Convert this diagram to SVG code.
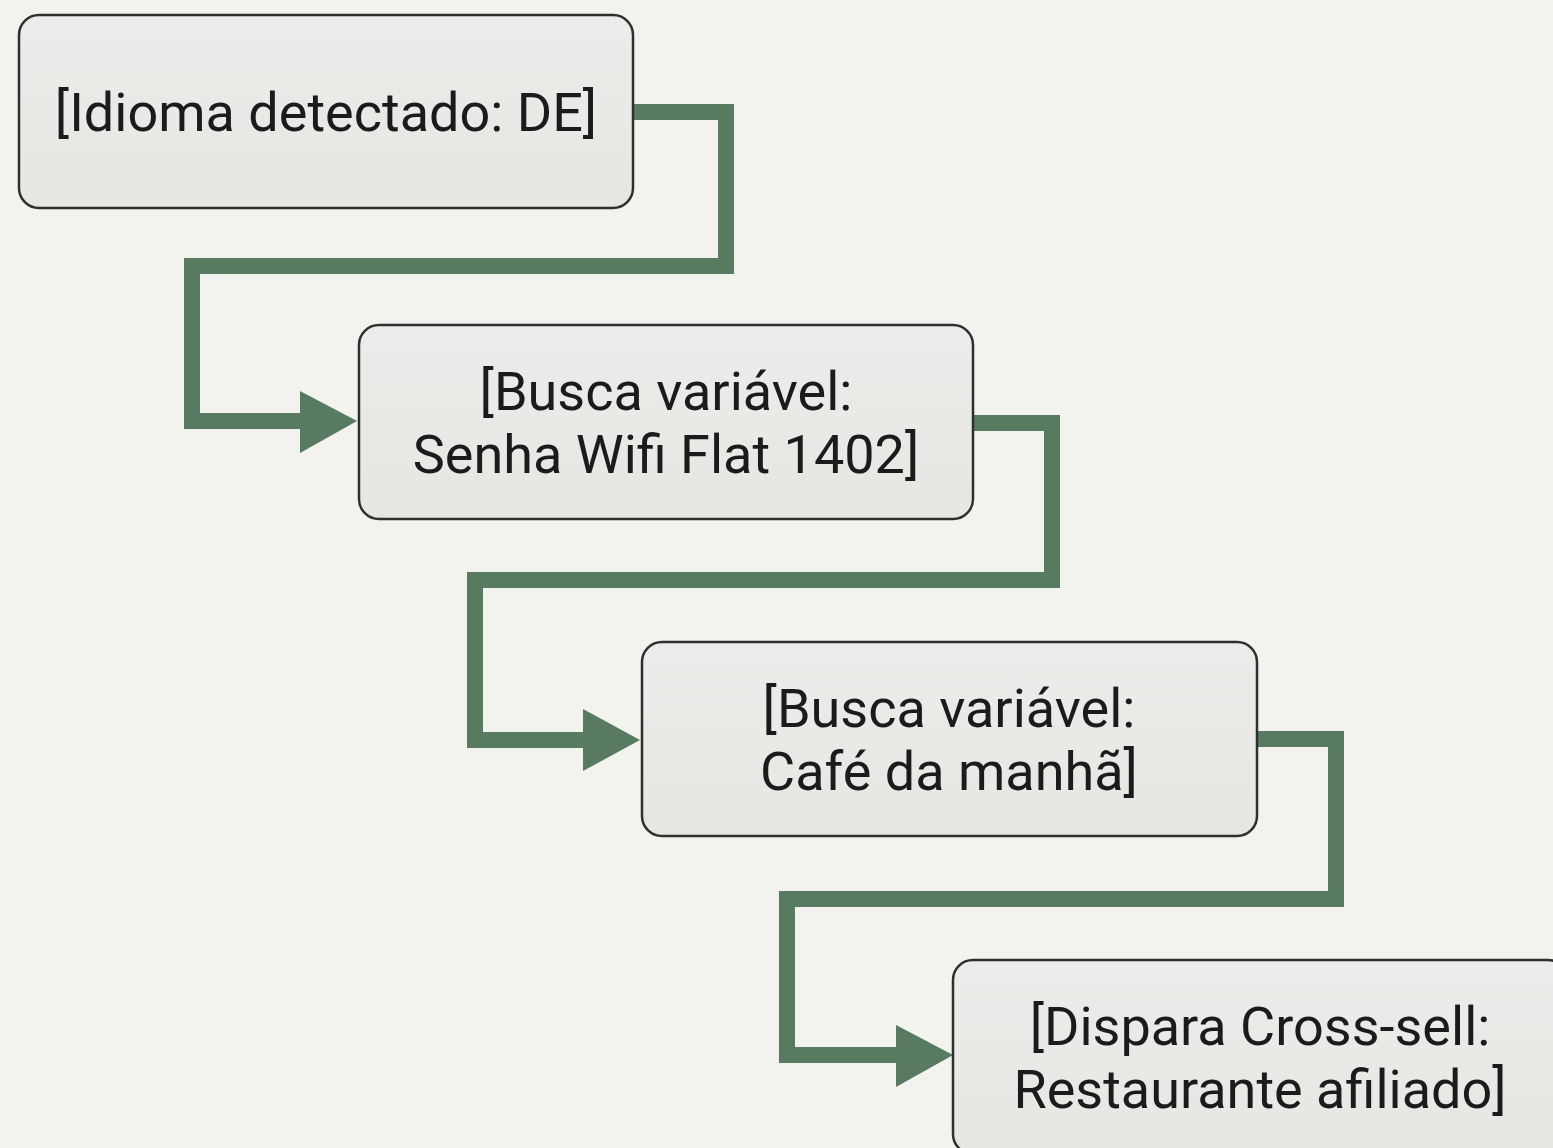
<svg xmlns="http://www.w3.org/2000/svg" width="1553" height="1148" viewBox="0 0 1553 1148">
<defs>
<linearGradient id="boxfill" x1="0" y1="0" x2="0" y2="1">
<stop offset="0" stop-color="#ececea"/>
<stop offset="1" stop-color="#e6e6e3"/>
</linearGradient>
<style>
.box{fill:url(#boxfill);stroke:#2f2f2f;stroke-width:2.5}
.lbl{font-family:Roboto,"Liberation Sans",sans-serif;font-size:54px;fill:#1b1b1b;text-anchor:middle}
.conn{fill:none;stroke:#587a60;stroke-width:16;stroke-linejoin:miter}
.head{fill:#587a60}
</style>
</defs>
<rect width="1553" height="1148" fill="#f2f2ee"/>
<g id="connectors">
<path class="conn" d="M633,112 H726 V266 H192 V421 H310"/>
<polygon class="head" points="300,391 357,421 300,453"/>
<path class="conn" d="M973,423 H1052 V580 H475 V740 H592"/>
<polygon class="head" points="583,709 640,740 583,771"/>
<path class="conn" d="M1257,739 H1336 V899 H787 V1055 H905"/>
<polygon class="head" points="896,1025 953,1055 896,1087"/>
</g>
<g id="node1">
<rect class="box" x="19" y="15" width="614" height="193" rx="20"/>
<text class="lbl" x="326" y="131">[Idioma detectado: DE]</text>
</g>
<g id="node2">
<rect class="box" x="359" y="325" width="614" height="194" rx="20"/>
<text class="lbl" x="666" y="410">[Busca variável:</text>
<text class="lbl" x="666" y="473">Senha Wifi Flat 1402]</text>
</g>
<g id="node3">
<rect class="box" x="642" y="642" width="615" height="194" rx="20"/>
<text class="lbl" x="949" y="727">[Busca variável:</text>
<text class="lbl" x="949" y="790">Café da manhã]</text>
</g>
<g id="node4">
<rect class="box" x="953" y="960" width="615" height="194" rx="20"/>
<text class="lbl" x="1260" y="1045">[Dispara Cross-sell:</text>
<text class="lbl" x="1260" y="1108">Restaurante afiliado]</text>
</g>
</svg>
